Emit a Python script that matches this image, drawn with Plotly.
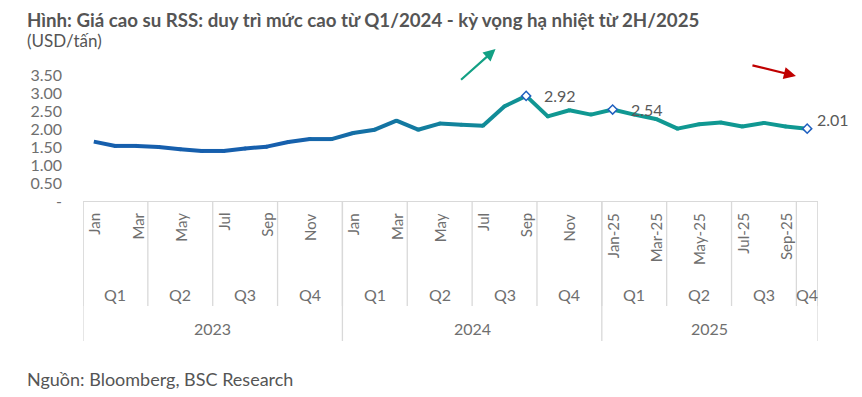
import plotly.graph_objects as go

# ---------------- data ----------------
prices = [1.65, 1.53, 1.53, 1.50, 1.44, 1.39, 1.39, 1.46, 1.51, 1.64, 1.72, 1.72,
          1.89, 1.98, 2.23, 1.98, 2.15, 2.12, 2.09, 2.63, 2.92, 2.35, 2.52, 2.40,
          2.54, 2.40, 2.28, 2.01, 2.13, 2.18, 2.07, 2.17, 2.07, 2.01]
month_labels = ["Jan", "", "Mar", "", "May", "", "Jul", "", "Sep", "", "Nov", "",
                "Jan", "", "Mar", "", "May", "", "Jul", "", "Sep", "", "Nov", "",
                "Jan-25", "", "Mar-25", "", "May-25", "", "Jul-25", "", "Sep-25", ""]
quarter_labels = ["Q1", "Q2", "Q3", "Q4", "Q1", "Q2", "Q3", "Q4", "Q1", "Q2", "Q3", "Q4"]
quarter_sizes = [3, 3, 3, 3, 3, 3, 3, 3, 3, 3, 3, 1]
year_labels = ["2023", "2024", "2025"]
year_sizes = [12, 12, 10]
highlight_idx = [20, 24, 33]
highlight_text = ["2.92", "2.54", "2.01"]
y_ticks = [0, 0.5, 1.0, 1.5, 2.0, 2.5, 3.0, 3.5]
y_ticktext = ["-", "0.50", "1.00", "1.50", "2.00", "2.50", "3.00", "3.50"]

title = "Hình: Giá cao su RSS: duy trì mức cao từ Q1/2024 - kỳ vọng hạ nhiệt từ 2H/2025"
subtitle = "(USD/tấn)"
source = "Nguồn: Bloomberg, BSC Research"

x = list(range(len(prices)))
FONT = "Lato"
GRAY = "#6f6f6f"
DARK = "#595959"

# gradient colours along the line
c0 = (0x16, 0x5F, 0xAD)
c1 = (0x10, 0x98, 0x92)
GRAD_START = 9
GRAD_END = 21


def seg_color(i):
    t = (i + 0.5 - GRAD_START) / (GRAD_END - GRAD_START)
    t = max(0.0, min(1.0, t))
    r, g, b = [round(a + (b_ - a) * t) for a, b_ in zip(c0, c1)]
    return f"rgb({r},{g},{b})"


fig = go.Figure()
for i in range(len(prices) - 1):
    fig.add_trace(go.Scatter(x=[x[i], x[i + 1]], y=[prices[i], prices[i + 1]],
                             mode="lines", line=dict(color=seg_color(i), width=4),
                             hoverinfo="skip", showlegend=False))
# joints (small round dots to fill corners between segments)
fig.add_trace(go.Scatter(x=x[1:-1], y=prices[1:-1], mode="markers",
                         marker=dict(size=4, color=[seg_color(i) for i in range(1, len(prices) - 1)],
                                     line=dict(width=0)),
                         hoverinfo="skip", showlegend=False))
# highlight markers
fig.add_trace(go.Scatter(x=[x[i] for i in highlight_idx],
                         y=[prices[i] for i in highlight_idx],
                         mode="markers",
                         marker=dict(symbol="diamond", size=7, color="white",
                                     line=dict(color="#1F5FBF", width=1.5)),
                         hoverinfo="skip", showlegend=False))

annotations = []
# data labels
shifts = [(34, 0), (34, 0), (26, 9)]
for (i, t), (dx, dy) in zip(zip(highlight_idx, highlight_text), shifts):
    annotations.append(dict(x=x[i], y=prices[i], xref="x", yref="y", text=t,
                            showarrow=False, xshift=dx, yshift=dy,
                            font=dict(family=FONT, size=16, color=DARK)))

# month labels (rotated)
for i, m in enumerate(month_labels):
    if m:
        annotations.append(dict(x=x[i], y=0, xref="x", yref="paper", text=m,
                                showarrow=False, textangle=-90,
                                xanchor="center", yanchor="top", yshift=-10,
                                font=dict(family=FONT, size=15, color=GRAY)))

shapes = []
LINE_C = "#d9d9d9"
H = 126.0
# quarter labels & dividers
pos = 0
for q, n in zip(quarter_labels, quarter_sizes):
    cx = pos - 0.5 + n / 2
    annotations.append(dict(x=cx, y=0, xref="x", yref="paper", text=q,
                            showarrow=False, yanchor="middle", yshift=-93,
                            font=dict(family=FONT, size=16, color=GRAY)))
    shapes.append(dict(type="line", xref="x", yref="paper",
                       x0=pos - 0.5, x1=pos - 0.5, y0=0, y1=-105 / H,
                       line=dict(color=LINE_C, width=1.3)))
    pos += n
shapes.append(dict(type="line", xref="x", yref="paper",
                   x0=pos - 0.5, x1=pos - 0.5, y0=0, y1=-105 / H,
                   line=dict(color=LINE_C, width=1.3)))
# year labels & dividers
pos = 0
for yl, n in zip(year_labels, year_sizes):
    cx = pos - 0.5 + n / 2
    annotations.append(dict(x=cx, y=0, xref="x", yref="paper", text=yl,
                            showarrow=False, yanchor="middle", yshift=-127,
                            font=dict(family=FONT, size=16, color=GRAY)))
    shapes.append(dict(type="line", xref="x", yref="paper",
                       x0=pos - 0.5, x1=pos - 0.5, y0=0, y1=-140 / H,
                       line=dict(color=LINE_C, width=1.3)))
    pos += n
shapes.append(dict(type="line", xref="x", yref="paper",
                   x0=pos - 0.5, x1=pos - 0.5, y0=0, y1=-140 / H,
                   line=dict(color=LINE_C, width=1.3)))

# title, subtitle, source
annotations.append(dict(x=0, y=1, xref="paper", yref="paper", xshift=-58, yshift=55,
                        xanchor="left", yanchor="middle", showarrow=False,
                        text=f"<b>{title}</b>",
                        font=dict(family=FONT, size=18.7, color="#555555")))
annotations.append(dict(x=0, y=1, xref="paper", yref="paper", xshift=-58, yshift=35,
                        xanchor="left", yanchor="middle", showarrow=False,
                        text=subtitle, font=dict(family=FONT, size=17, color="#555555")))
annotations.append(dict(x=0, y=0, xref="paper", yref="paper", xshift=-58, yshift=-178,
                        xanchor="left", yanchor="middle", showarrow=False,
                        text=source, font=dict(family=FONT, size=18, color="#555555")))

# trend arrows
annotations.append(dict(x=0.5613, y=1.206, xref="paper", yref="paper", text="",
                        showarrow=True, ax=-36, ay=32, arrowhead=2, arrowsize=1.1,
                        arrowwidth=2.2, arrowcolor="#12A084", standoff=0))
annotations.append(dict(x=0.970, y=0.992, xref="paper", yref="paper", text="",
                        showarrow=True, ax=-45, ay=-11, arrowhead=2, arrowsize=1.1,
                        arrowwidth=2.2, arrowcolor="#C00000", standoff=0))

fig.update_layout(
    width=862, height=397,
    margin=dict(l=83, r=44, t=75, b=196),
    paper_bgcolor="white", plot_bgcolor="white",
    showlegend=False,
    annotations=annotations,
    shapes=shapes,
    xaxis=dict(range=[-0.5, len(prices) - 0.5], showgrid=False, zeroline=False,
               showticklabels=False, ticks="", showline=True,
               linecolor=LINE_C, linewidth=1.3, fixedrange=True),
    yaxis=dict(range=[0, 3.5], tickvals=y_ticks, ticktext=y_ticktext,
               showgrid=False, zeroline=False, showline=False, ticks="",
               ticklabelstandoff=20,
               tickfont=dict(family=FONT, size=16, color=GRAY), fixedrange=True),
)

fig.write_html("out.html", config={"displayModeBar": False},
               post_script="document.body.style.margin='0';document.body.style.overflow='hidden';")
